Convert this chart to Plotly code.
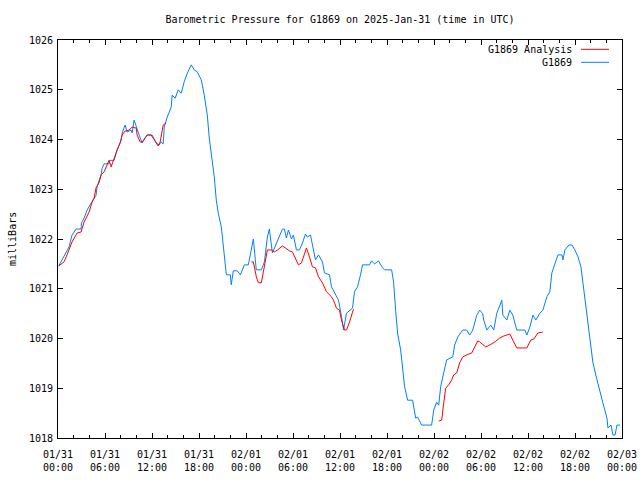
import pandas as pd
import plotly.graph_objects as go

# Hours since 2025-01-31 00:00 UTC, and pressure in milliBars
blue_hours = [0.1, 0.77, 1.41, 1.79, 2.30, 2.94, 3.0, 3.33, 3.71, 4.22, 4.86, 4.99, 5.50, 5.63, 5.88,
              6.52, 6.6, 7.16, 7.55, 8.06, 8.19, 8.57, 8.82, 9.34, 9.46, 9.72, 9.98, 10.36, 10.74,
              11.0, 11.38, 12.02, 12.53, 12.92, 13.17, 13.43, 13.56, 13.94, 14.45, 14.58, 14.96,
              15.35, 15.73, 16.11, 16.50, 17.01, 17.39, 17.78, 18.29, 18.67, 19.06, 19.31, 19.57,
              19.69, 19.95, 20.21, 20.46, 20.85, 21.23, 21.49, 22.0, 22.12, 22.38, 22.89, 23.28,
              23.79, 24.30, 24.68, 24.94, 25.19, 25.32, 25.96, 26.35, 26.73, 26.98, 27.37, 27.88,
              28.14, 28.65, 28.90, 29.16, 29.42, 29.80, 30.05, 30.44, 30.82, 31.21, 31.59, 31.84,
              32.23, 32.48, 32.87, 33.25, 33.76, 34.02, 34.66, 34.91, 35.43, 35.81, 36.19, 36.45,
              36.83, 37.22, 37.60, 37.85, 38.24, 38.62, 38.88, 39.77, 40.03, 40.41, 40.92, 41.44,
              41.69, 42.59, 42.84, 43.10, 43.35, 43.74, 43.99, 44.25, 44.63, 45.27, 45.66, 45.91,
              46.42, 47.70, 47.96, 48.34, 48.60, 48.85, 49.24, 49.62, 50.39, 50.64, 51.03, 51.67,
              52.18, 52.56, 52.95, 53.46, 53.84, 54.22, 54.35, 54.74, 55.25, 55.63, 56.02, 56.40,
              56.66, 56.79, 57.29, 57.68, 58.06, 58.57, 59.60, 59.85, 60.24, 60.62, 61.00, 61.52,
              61.90, 62.41, 62.79, 63.05, 63.43, 63.82, 64.33, 64.46, 64.71, 65.22, 65.61, 65.99,
              66.38, 66.76, 67.01, 67.52, 67.91, 68.29, 68.81, 69.19, 69.57, 70.08, 70.21, 70.60,
              70.85, 71.11, 71.36, 71.75]
blue_values = [1021.46, 1021.64, 1021.84, 1022.08, 1022.2, 1022.2, 1022.32, 1022.42, 1022.58, 1022.72,
               1022.88, 1023.05, 1023.29, 1023.42, 1023.51, 1023.51, 1023.58, 1023.58, 1023.79,
               1023.99, 1024.13, 1024.29, 1024.15, 1024.19, 1024.13, 1024.39, 1024.25, 1024.09,
               1023.93, 1023.99, 1024.09, 1024.09, 1023.93, 1023.89, 1023.95, 1023.91, 1024.25,
               1024.45, 1024.65, 1024.89, 1024.83, 1025.0, 1024.93, 1025.16, 1025.33, 1025.5,
               1025.4, 1025.36, 1025.2, 1024.89, 1024.49, 1024.03, 1023.69, 1023.49, 1023.25,
               1022.78, 1022.52, 1022.24, 1021.72, 1021.28, 1021.28, 1021.08, 1021.36, 1021.36,
               1021.28, 1021.48, 1021.48, 1021.78, 1022.0, 1021.58, 1021.38, 1021.38, 1021.54,
               1022.04, 1022.2, 1021.72, 1021.92, 1022.02, 1022.2, 1022.2, 1022.02, 1022.18,
               1022.0, 1022.08, 1021.78, 1021.78, 1021.92, 1022.1, 1022.04, 1022.08, 1021.88,
               1021.58, 1021.68, 1021.54, 1021.32, 1021.28, 1021.04, 1020.88, 1020.77, 1020.44,
               1020.17, 1020.51, 1020.57, 1020.61, 1020.94, 1021.04, 1021.28, 1021.48, 1021.48,
               1021.56, 1021.5, 1021.56, 1021.42, 1021.38, 1021.38, 1021.14, 1020.57, 1020.11,
               1019.77, 1019.37, 1019.03, 1018.76, 1018.76, 1018.4, 1018.42, 1018.26, 1018.26,
               1018.56, 1018.72, 1018.66, 1019.03, 1019.31, 1019.57, 1019.63, 1019.87, 1020.03,
               1020.17, 1020.17, 1020.07, 1020.17, 1020.47, 1020.57, 1020.5, 1020.37, 1020.17,
               1020.27, 1020.17, 1020.51, 1020.67, 1020.77, 1020.47, 1020.37, 1020.57, 1020.47,
               1020.17, 1020.17, 1020.07, 1020.23, 1020.47, 1020.37, 1020.51, 1020.57, 1020.84,
               1020.94, 1021.32, 1021.48, 1021.68, 1021.68, 1021.58, 1021.78, 1021.88, 1021.88,
               1021.78, 1021.64, 1021.44, 1021.12, 1020.43, 1020.03, 1019.51, 1019.17, 1018.9,
               1018.7, 1018.4, 1018.2, 1018.26, 1018.06, 1018.06, 1018.26, 1018.26]

red_seg1_hours = [0.1, 0.77, 1.15, 1.79, 2.43, 2.94, 3.33, 3.71, 3.96, 4.35, 4.60, 4.86, 5.24, 5.50,
                  5.88, 6.27, 6.52, 6.78, 7.16, 7.55, 7.93, 8.19, 8.57, 9.08, 9.46, 9.98, 10.10,
                  10.49, 10.74, 11.38, 11.89, 12.41, 12.79, 13.04, 13.17, 13.43, 13.81]
red_seg1_values = [1021.46, 1021.54, 1021.68, 1021.94, 1022.12, 1022.14, 1022.34, 1022.48, 1022.54,
                   1022.74, 1022.82, 1023.03, 1023.13, 1023.29, 1023.35, 1023.49, 1023.58, 1023.45,
                   1023.63, 1023.79, 1023.93, 1024.09, 1024.17, 1024.19, 1024.25, 1024.23, 1024.09,
                   1023.95, 1023.95, 1024.09, 1024.09, 1023.95, 1023.87, 1023.95, 1024.09, 1024.29,
                   1024.33]
red_seg2_hours = [24.68, 24.94, 25.32, 25.58, 25.96, 26.22, 26.47, 26.73, 27.24, 27.62, 28.01, 28.65,
                  29.03, 29.54, 29.93, 30.44, 30.69, 31.08, 31.33, 31.72, 32.10, 32.48, 32.87,
                  33.25, 33.76, 34.27, 34.91, 35.17, 35.55, 35.94, 36.19, 36.58, 36.83, 37.22,
                  37.60, 37.73]
red_seg2_values = [1021.54, 1021.54, 1021.24, 1021.12, 1021.12, 1021.34, 1021.62, 1021.78, 1021.78,
                   1021.74, 1021.78, 1021.86, 1021.82, 1021.76, 1021.74, 1021.58, 1021.48, 1021.52,
                   1021.64, 1021.82, 1021.64, 1021.44, 1021.42, 1021.24, 1021.12, 1020.94, 1020.84,
                   1020.77, 1020.61, 1020.57, 1020.37, 1020.17, 1020.17, 1020.33, 1020.53, 1020.59]
red_seg3_hours = [48.60, 48.98, 49.24, 49.49, 49.88, 50.26, 50.52, 50.90, 51.28, 51.67, 52.18, 52.82,
                  53.20, 53.59, 53.84, 54.61, 55.12, 55.76, 56.40, 56.91, 57.68, 58.06, 58.57,
                  59.85, 60.36, 60.75, 61.26, 61.90]
red_seg3_values = [1018.34, 1018.36, 1018.7, 1019.0, 1019.07, 1019.17, 1019.27, 1019.31, 1019.51,
                   1019.63, 1019.67, 1019.71, 1019.83, 1019.95, 1019.93, 1019.83, 1019.87, 1019.93,
                   1020.01, 1020.05, 1020.09, 1019.97, 1019.81, 1019.81, 1019.97, 1019.99, 1020.11,
                   1020.13]

tick_hours = [0, 6, 12, 18, 24, 30, 36, 42, 48, 54, 60, 66, 72]
tick_labels = ["01/31<br>00:00", "01/31<br>06:00", "01/31<br>12:00", "01/31<br>18:00",
               "02/01<br>00:00", "02/01<br>06:00", "02/01<br>12:00", "02/01<br>18:00",
               "02/02<br>00:00", "02/02<br>06:00", "02/02<br>12:00", "02/02<br>18:00",
               "02/03<br>00:00"]

base = pd.Timestamp("2025-01-31 00:00")


def to_time(hours):
    return [base + pd.Timedelta(hours=h) for h in hours]


red_x = []
red_y = []
for hs, vs in [(red_seg1_hours, red_seg1_values), (red_seg2_hours, red_seg2_values),
               (red_seg3_hours, red_seg3_values)]:
    red_x += to_time(hs) + [None]
    red_y += vs + [None]

RED = "#ff0000"
BLUE = "#0080ff"
FONT = "DejaVu Sans Mono"

fig = go.Figure()
fig.add_trace(go.Scatter(x=to_time(blue_hours), y=blue_values, mode="lines",
                         line=dict(color=BLUE, width=1), name="G1869", showlegend=False))
fig.add_trace(go.Scatter(x=red_x, y=red_y, mode="lines", connectgaps=False,
                         line=dict(color=RED, width=1), name="G1869 Analysis", showlegend=False))

# gnuplot-style legend (text right, sample line to the right)
for txt, col, yp in [("G1869 Analysis", RED, 0.9766), ("G1869", BLUE, 0.944)]:
    fig.add_annotation(x=0.915, y=yp, xref="paper", yref="paper", text=txt, showarrow=False,
                       xanchor="right", yanchor="middle", font=dict(family=FONT, size=10, color="black"))
    fig.add_shape(type="line", xref="paper", yref="paper", x0=0.9273, x1=0.977, y0=yp, y1=yp,
                  line=dict(color=col, width=1))

fig.add_annotation(x=-0.0816, y=0.5, xref="paper", yref="paper", text="milliBars", textangle=-90,
                   showarrow=False, xanchor="center", yanchor="middle",
                   font=dict(family=FONT, size=10, color="black"))

fig.update_layout(
    width=640, height=480,
    margin=dict(l=58, r=18, t=40, b=42),
    paper_bgcolor="white", plot_bgcolor="white",
    font=dict(family=FONT, size=10, color="black"),
    title=dict(text="Barometric Pressure for G1869 on 2025-Jan-31 (time in UTC)",
               x=0.5, xref="paper", xanchor="center", y=1 - 19 / 480, yanchor="middle",
               font=dict(family=FONT, size=10, color="black")),
    showlegend=False,
)
fig.update_xaxes(
    type="date",
    range=[base, base + pd.Timedelta(hours=72)],
    tickmode="array", tickvals=to_time(tick_hours), ticktext=tick_labels,
    ticks="inside", ticklen=5, tickcolor="black", tickwidth=1,
    minor=dict(tickmode="linear", tick0=base, dtick=2 * 3600 * 1000, ticks="inside",
               ticklen=3, tickcolor="black", showgrid=False),
    showline=True, linecolor="black", linewidth=1, mirror="ticks",
    showgrid=False, zeroline=False, automargin=False, ticklabeloverflow="allow",
    ticklabelstandoff=7,
    tickfont=dict(family=FONT, size=10, color="black"),
)
fig.update_yaxes(
    range=[1018, 1026], dtick=1, tick0=1018,
    ticks="inside", ticklen=5, tickcolor="black", tickwidth=1,
    showline=True, linecolor="black", linewidth=1, mirror="ticks",
    showgrid=False, zeroline=False, automargin=False, ticklabelstandoff=2,
    tickfont=dict(family=FONT, size=10, color="black"),
)

# remove the default 8px page margin so the 640x480 figure fills the window exactly
fig.write_html("out.html", config={"displayModeBar": False},
               post_script="document.body.style.margin='0';")
